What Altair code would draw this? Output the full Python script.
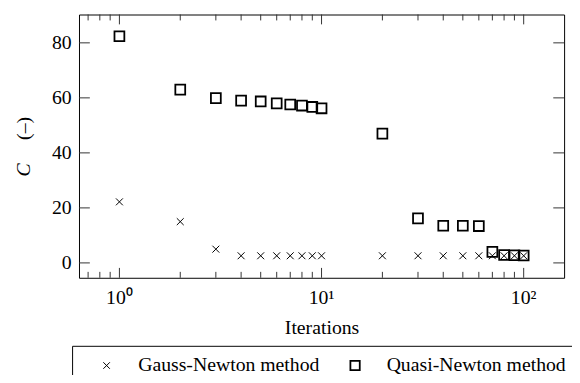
import altair as alt
import pandas as pd

iterations = [1, 2, 3, 4, 5, 6, 7, 8, 9, 10, 20, 30, 40, 50, 60, 70, 80, 90, 100]
gauss_newton = [22.2, 15.0, 5.0, 2.6, 2.6, 2.6, 2.6, 2.6, 2.6, 2.6, 2.6, 2.6, 2.6, 2.6, 2.6, 2.6, 2.6, 2.6, 2.6]
quasi_newton = [82.4, 63.0, 59.9, 59.0, 58.7, 58.0, 57.6, 57.2, 56.7, 56.2, 47.0, 16.2, 13.5, 13.5, 13.4, 4.0, 2.9, 2.8, 2.7]
methods = ["Gauss-Newton method", "Quasi-Newton method"]

y_ticks = [0, 20, 40, 60, 80]
x_major = [1, 10, 100]
x_major_labels = ["10⁰", "10¹", "10²"]
x_minor = [0.7, 0.8, 0.9, 2, 3, 4, 5, 6, 7, 8, 9, 20, 30, 40, 50, 60, 70, 80, 90]

W, H = 492, 267
FONT = "Liberation Serif"

n = len(iterations)
df = pd.DataFrame({
    "iter": iterations * 2,
    "C": gauss_newton + quasi_newton,
    "method": [methods[0]] * n + [methods[1]] * n,
})

cross = "M-0.7,-0.7L0.7,0.7M-0.7,0.7L0.7,-0.7"
xscale = alt.Scale(type="log", domain=[0.631, 158.5], nice=False)
yscale = alt.Scale(domain=[-5.4, 90.3], nice=False, zero=False)

x_axis = alt.Axis(orient="bottom", values=x_major, title="Iterations", labels=False,
                  titleY=57, titleBaseline="alphabetic", titleFont=FONT, titleFontSize=20)

points = alt.Chart(df).mark_point(filled=False, size=100, opacity=1, color="black").encode(
    x=alt.X("iter:Q", scale=xscale, axis=x_axis),
    y=alt.Y("C:Q", scale=yscale,
            axis=alt.Axis(values=y_ticks, title="C", orient="left", titleFontStyle="italic",
                          labelFont=FONT, labelFontSize=20,
                          labelPadding=8, titleX=-50, titleY=157, titleAngle=270,
                          titleBaseline="alphabetic", titleAlign="center")),
    shape=alt.Shape("method:N", scale=alt.Scale(domain=methods, range=[cross, "square"]),
                    legend=alt.Legend(title=None, orient="none", legendX=-7, legendY=336,
                                      direction="horizontal", columns=2,
                                      strokeColor="black", padding=10, symbolOffset=15,
                                      labelFont=FONT, labelFontSize=20, labelColor="black",
                                      labelLimit=0,
                                      symbolSize=90, symbolStrokeWidth=1.4,
                                      symbolStrokeColor="black", symbolFillColor="transparent",
                                      labelOffset=22, columnPadding=11)),
    strokeWidth=alt.StrokeWidth("method:N", scale=alt.Scale(domain=methods, range=[1.0, 1.8]), legend=None),
)

ytdf = pd.DataFrame({"C": y_ticks})
ytick_left = alt.Chart(ytdf).mark_rule(color="#333", strokeWidth=1).encode(
    y=alt.Y("C:Q", scale=yscale,
            axis=alt.Axis(orient="left", title="(–)", labels=False, titleX=-50, titleY=115,
                          titleAngle=270, titleBaseline="alphabetic", titleAlign="center")),
    x=alt.value(0), x2=alt.value(11),
)
ytick_right = alt.Chart(ytdf).mark_rule(color="#333", strokeWidth=1).encode(
    y=alt.Y("C:Q", scale=yscale, axis=None),
    x=alt.value(W - 11), x2=alt.value(W),
)

xmaj = pd.DataFrame({"iter": x_major, "lab": x_major_labels})
xmin = pd.DataFrame({"iter": x_minor})
def xticks(d, y0, y1):
    return alt.Chart(d).mark_rule(color="#333", strokeWidth=1).encode(
        x=alt.X("iter:Q", scale=xscale, axis=x_axis),
        y=alt.value(y0), y2=alt.value(y1),
    )

xlabels = alt.Chart(xmaj).mark_text(font=FONT, fontSize=20, color="black",
                                    baseline="alphabetic", align="center").encode(
    x=alt.X("iter:Q", scale=xscale, axis=x_axis),
    y=alt.value(H + 27),
    text="lab:N",
)

chart = alt.layer(
    points,
    ytick_left, ytick_right,
    xticks(xmaj, H, H - 10), xticks(xmaj, 0, 10),
    xticks(xmin, H, H - 6), xticks(xmin, 0, 6),
    xlabels,
).resolve_axis(y="independent").properties(
    width=W, height=H,
    padding={"left": 72, "top": 4, "right": 8, "bottom": 96},
    autosize=alt.AutoSizeParams(type="none"),
).configure_view(stroke="black", strokeWidth=1).configure_axis(
    labelFont=FONT, labelFontSize=20, labelColor="black",
    titleFont=FONT, titleFontSize=20, titleColor="black", titleFontWeight="normal",
    ticks=False, domain=False, grid=False,
)

chart.save("out.html", embed_options={"renderer": "svg", "actions": False})
